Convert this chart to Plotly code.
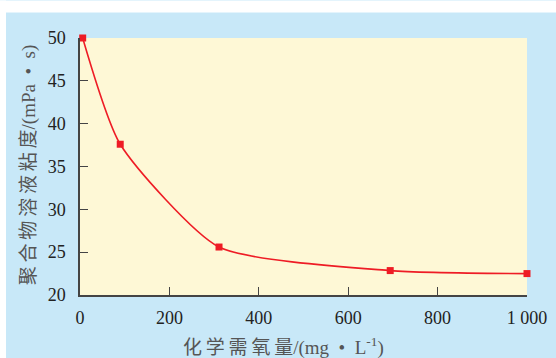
import plotly.graph_objects as go

cod = [6, 90, 311, 694, 1000]
viscosity = [50.0, 37.6, 25.6, 22.85, 22.5]
x_ticks = [0, 200, 400, 600, 800, 1000]
x_tick_text = ["0", "200", "400", "600", "800", "1 000"]
y_ticks = [20, 25, 30, 35, 40, 45, 50]

L, R, T, B = 80, 29, 37.5, 63
W, H = 556, 358
pw, ph = W - L - R, H - T - B

fig = go.Figure()
fig.add_trace(go.Scatter(
    x=cod, y=viscosity, mode="lines+markers",
    line=dict(color="#ee1c25", width=1.6, shape="spline", smoothing=0.6),
    marker=dict(symbol="square", size=7, color="#ee1c25"),
    cliponaxis=False, showlegend=False,
))

def px_to_paper_x(px):
    return (px - L) / pw

def py_to_paper_y(py):
    return (H - B - py) / ph

shapes = [
    dict(type="rect", xref="paper", yref="paper", layer="below",
         x0=px_to_paper_x(0), x1=px_to_paper_x(W), y0=py_to_paper_y(0), y1=py_to_paper_y(12),
         fillcolor="white", line=dict(width=0)),
    dict(type="rect", xref="paper", yref="paper", layer="below",
         x0=px_to_paper_x(0), x1=px_to_paper_x(6), y0=py_to_paper_y(0), y1=py_to_paper_y(H),
         fillcolor="white", line=dict(width=0)),
]

serif = "'Liberation Serif', 'Times New Roman', 'Noto Sans CJK SC', serif"
ts = "\u2009"
x_title = ts.join("化学需氧量") + "/(mg  •  L<sup>-1</sup>)"
y_title = ts.join("聚合物溶液粘度") + "/(mPa  •  s)"

annotations = [
    dict(text=x_title, xref="paper", yref="paper",
         x=px_to_paper_x(283), y=py_to_paper_y(347), xanchor="center", yanchor="middle",
         showarrow=False, font=dict(family=serif, size=19, color="#555")),
    dict(text=y_title, xref="paper", yref="paper", textangle=-90,
         x=px_to_paper_x(29), y=py_to_paper_y(165), xanchor="center", yanchor="middle",
         showarrow=False, font=dict(family=serif, size=19, color="#555")),
]

fig.update_layout(
    width=W, height=H,
    margin=dict(l=L, r=R, t=T, b=B, autoexpand=False),
    paper_bgcolor="#c8e8f8",
    plot_bgcolor="#fef8d6",
    shapes=shapes,
    annotations=annotations,
    xaxis=dict(
        range=[0, 1000], tickvals=x_ticks, ticktext=x_tick_text,
        ticks="inside", ticklen=8, tickwidth=1.3, tickcolor="#444",
        showline=True, linecolor="#444", linewidth=1.5,
        showgrid=False, zeroline=False,
        tickfont=dict(family=serif, size=18, color="#222"),
        ticklabelstandoff=6,
    ),
    yaxis=dict(
        range=[20, 50], tickvals=y_ticks,
        ticks="inside", ticklen=8, tickwidth=1.3, tickcolor="#444",
        showline=True, linecolor="#444", linewidth=1.5,
        showgrid=False, zeroline=False,
        tickfont=dict(family=serif, size=18, color="#222"),
        ticklabelstandoff=9,
    ),
)

fig.write_html("out.html")
